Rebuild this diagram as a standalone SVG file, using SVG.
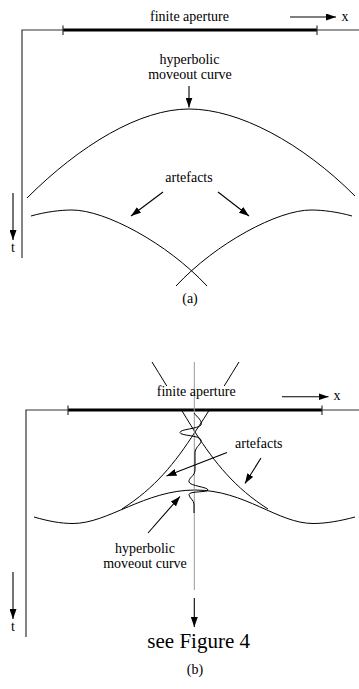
<svg xmlns="http://www.w3.org/2000/svg" width="359" height="689" viewBox="0 0 359 689">
<defs>
<style>
.axis{stroke:#333;stroke-width:1.2;fill:none}
.bar{stroke:#000;stroke-width:3;fill:none}
.tick{stroke:#333;stroke-width:1.2}
.curve{stroke:#000;stroke-width:1;fill:none}
.arr{stroke:#000;stroke-width:1.1;fill:none;marker-end:url(#ah)}
.gray{stroke:#999;stroke-width:1;fill:none}
</style>
<marker id="ah" markerUnits="userSpaceOnUse" markerWidth="10" markerHeight="7" refX="10" refY="3.5" orient="auto">
<path d="M0,0 L10,3.5 L0,7 z" fill="#000"/>
</marker>
</defs>
<rect width="359" height="689" fill="#fff"/>

<!-- Panel (a) -->
<g id="panel-a">
<g id="a-axes">
<path class="axis" d="M359,30 H22 V258"/>
<path class="bar" d="M63,30 H317"/>
<path class="tick" d="M63,25.5 V35 M317,25.5 V35"/>
</g>
<g id="a-curves">
<path id="a-moveout" class="curve" d="M27,198 C80,145 140,109 189,109 C239,109 302,143 355,196"/>
<path id="a-artefact-left" class="curve" d="M31,216 C45,212 60,210 72,210 C105,210 167,243 207,286"/>
<path id="a-artefact-right" class="curve" d="M352,216 C338,212 323,210 311,210 C278,210 216,243 176,286"/>
</g>
<g id="a-connectors">
<path class="arr" d="M290,17 H336"/>
<path class="arr" d="M189,86 V107.5"/>
<path class="arr" d="M163,192 L131,216"/>
<path class="arr" d="M218,192 L249,216"/>
<path class="arr" d="M13,193 V240"/>
</g>
<g id="a-labels">
<text font-family="Liberation Serif" font-size="14" text-anchor="middle" x="189.5" y="21">finite aperture</text>
<text font-family="Liberation Serif" font-size="14" text-anchor="middle" x="345" y="21">x</text>
<text font-family="Liberation Serif" font-size="14" text-anchor="middle" x="189.5" y="64">hyperbolic</text>
<text font-family="Liberation Serif" font-size="14" text-anchor="middle" x="190" y="79">moveout curve</text>
<text font-family="Liberation Serif" font-size="14" text-anchor="middle" x="189" y="182">artefacts</text>
<text font-family="Liberation Serif" font-size="14" text-anchor="middle" x="13" y="252">t</text>
<text font-family="Liberation Serif" font-size="14" text-anchor="middle" x="190" y="303">(a)</text>
</g>
</g>

<!-- Panel (b) -->
<g id="panel-b">
<g id="b-curves">
<path id="b-branch-right" class="curve" d="M152,362 C170,391 185,416 195,432 C215,463 235,488 268,509"/>
<path id="b-branch-left" class="curve" d="M239,362 C221,391 206,416 195,432 C175,463 155,488 122,509"/>
<path id="b-moveout" class="curve" d="M34,517 C48,521 60,523.5 73,523.5 C108,523.5 145,490 195,490 C245,490 278,523.5 313,523.5 C326,523.5 340,521 355,517"/>
</g>
<rect x="149" y="386" width="94" height="23" fill="#fff"/>
<g id="b-axes">
<path class="axis" d="M359,410 H26 V637"/>
<path class="bar" d="M68,410 H322"/>
<path class="tick" d="M68,405.5 V415 M322,405.5 V415"/>
</g>
<path id="b-trace-axis" class="gray" d="M194.3,362 V590"/>
<path id="b-wavelet" class="curve" d="M194,413 C197,417 203,421 201,425 C198,429 180,429 180,432.5 C180,436 200,435 201,440 C202,444 196,446 195,452 L195,470 C195,476 188,478 189,482 C190,486 208,487 208,490 C208,492.5 189,491 189,494.5 C189,498 194,500 194,504 L194,513"/>
<g id="b-connectors">
<path class="arr" d="M282,396.7 H328.5"/>
<path class="arr" d="M227,452.5 L166.5,476"/>
<path class="arr" d="M261,458 L245,483.5"/>
<path class="arr" d="M148,533 L180,496.5"/>
<path class="arr" d="M194.3,598 V627"/>
<path class="arr" d="M13,572 V619"/>
</g>
<g id="b-labels">
<text font-family="Liberation Serif" font-size="14" text-anchor="middle" x="196.2" y="395.7">finite aperture</text>
<text font-family="Liberation Serif" font-size="14" text-anchor="middle" x="337" y="399.5">x</text>
<text font-family="Liberation Serif" font-size="14" text-anchor="middle" x="258.8" y="448.3">artefacts</text>
<text font-family="Liberation Serif" font-size="14" text-anchor="middle" x="145" y="553.3">hyperbolic</text>
<text font-family="Liberation Serif" font-size="14" text-anchor="middle" x="145" y="568.3">moveout curve</text>
<text font-family="Liberation Serif" font-size="14" text-anchor="middle" x="13" y="631">t</text>
<text font-family="Liberation Serif" font-size="21" text-anchor="middle" x="198.7" y="648.3">see Figure 4</text>
<text font-family="Liberation Serif" font-size="14" text-anchor="middle" x="195" y="673.5">(b)</text>
</g>
</g>
</svg>
